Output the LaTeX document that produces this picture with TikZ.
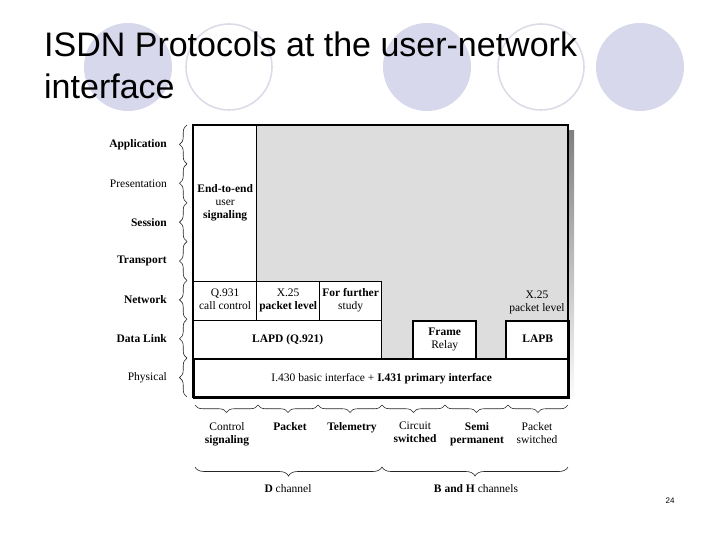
\documentclass[tikz,border=0pt]{standalone}
\usepackage{fontspec}
\setmainfont{Liberation Serif}
\setsansfont{Liberation Sans}
\usetikzlibrary{decorations.pathreplacing, calc}
\definecolor{lav}{RGB}{216,216,236}
\definecolor{lavline}{RGB}{220,220,232}
\definecolor{panel}{RGB}{221,221,221}
\definecolor{shade}{RGB}{88,88,88}

\begin{document}
\begin{tikzpicture}[
  % one unit is one pixel of the slide, y runs downwards
  x=1pt, y=-1pt, font=\fontsize{11.5}{13}\selectfont,
  txt/.style={inner sep=0pt, align=center, execute at begin node=\strut, execute at end node=\strut},
  cell/.style={txt, draw, fill=white, line width=1.3pt, anchor=north west},
  thickcell/.style={cell, line width=2.4pt},
  lay/.style={anchor=east, inner sep=0pt},
  svc/.style={txt, anchor=north},
  brc/.style={decorate, decoration={brace, amplitude=#1}, line width=0.6pt, black!85},
  brc/.default=7.5pt,
]
\useasboundingbox (0,0) rectangle (720,540);
% slide decoration
\foreach \cx in {128,427,640} \fill[lav] (\cx,67) circle (44pt);
\foreach \cx in {229,541} \draw[lavline, line width=1.6pt] (\cx,67) circle (43pt);
\node[anchor=base west, inner sep=0pt, font=\sffamily\fontsize{34}{42}\selectfont] (title1) at (44,57) {ISDN Protocols at the user-network};
\node[anchor=base west, inner sep=0pt, font=\sffamily\fontsize{34}{42}\selectfont] (title2) at (44,99) {interface};
\node[inner sep=0pt, font=\sffamily\fontsize{8}{9}\selectfont] (pageno) at (670,501) {24};
% protocol panel
\fill[shade] (199,131) rectangle (574,403);
\fill[panel] (193,125) rectangle (568,397);
\node[cell, minimum width=63pt, minimum height=156pt] (e2e) at (193,125) {\textbf{End-to-end}\\user\\\textbf{signaling}};
\node[cell, minimum width=63pt, minimum height=39pt] (q931) at (193,281) {Q.931\\call control};
\node[cell, minimum width=63pt, minimum height=39pt] (x25) at (256,281) {X.25\\\textbf{packet level}};
\node[cell, minimum width=62pt, minimum height=39pt] (study) at (319,281) {\textbf{For further}\\study};
\node[cell, minimum width=188pt, minimum height=38pt] (lapd) at (193,320) {\textbf{LAPD (Q.921)}};
\node[thickcell, minimum width=63pt, minimum height=38pt] (relay) at (412,320) {\textbf{Frame}\\Relay};
\node[thickcell, minimum width=63pt, minimum height=38pt] (lapb) at (505,320) {\textbf{LAPB}};
\node[txt] (x25b) at (537,303) {X.25\\packet level};
\node[thickcell, minimum width=375pt, minimum height=39pt] (phys) at (193,358) {I.430 basic interface + \textbf{I.431 primary interface}};
\draw[line width=2.4pt] (193,125) rectangle (568,397);
% OSI layers
\foreach \k/\txt/\nm in {0/\textbf{Application}/app, 1/Presentation/pres, 2/\textbf{Session}/sess,
    3/\textbf{Transport}/trans, 4/\textbf{Network}/net, 5/\textbf{Data Link}/dl, 6/Physical/phy} {
  \node[lay] (\nm) at (167,{125+38.86*(\k+0.5)}) {\txt};
  \draw[brc] (187,{125+38.86*(\k+1)}) -- (187,{125+38.86*\k});
}
% services
\foreach \a/\b in {195/258, 258/318, 318/382, 382/445, 445/508, 508/568}
  \draw[brc] (\b,405) -- (\a,405);
\node[svc] (ctl)  at (227,422) {Control\\\textbf{signaling}};
\node[svc] (pkt)  at (290,422) {\textbf{Packet}\\\mbox{}};
\node[svc] (tel)  at (352,422) {\textbf{Telemetry}\\\mbox{}};
\node[svc] (cir)  at (415,422) {Circuit\\\textbf{switched}};
\node[svc] (semi) at (477,422) {\textbf{Semi}\\\textbf{permanent}};
\node[svc] (psw)  at (537,422) {Packet\\switched};
% channels
\draw[brc=9pt] (382,467) -- (195,467);
\draw[brc=9pt] (568,467) -- (382,467);
\node[svc] (dch) at (288,483) {\textbf{D} channel};
\node[svc] (bh)  at (476,483) {\textbf{B and H} channels};
\end{tikzpicture}
\end{document}
